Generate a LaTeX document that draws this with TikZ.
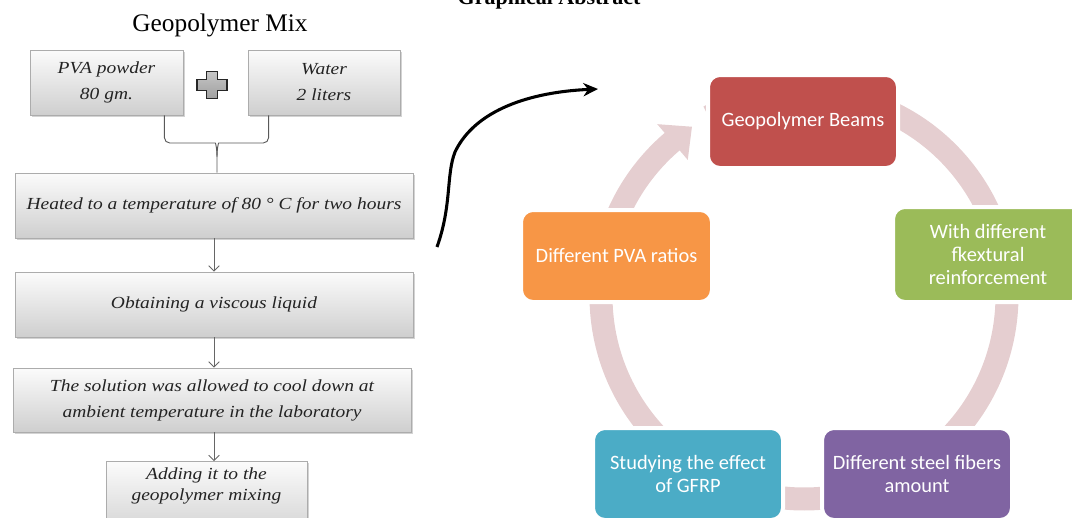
\documentclass[tikz,border=0pt]{standalone}
\usepackage{fontspec}
\setmainfont{Liberation Serif}
\newfontfamily\flowfont{Liberation Serif}[FakeStretch=1.15]
\newfontfamily\cyclefont{Carlito}
\usetikzlibrary{arrows.meta,shadows,calc}
\definecolor{ringpink}{RGB}{229,206,208}
\definecolor{cred}{RGB}{192,80,77}
\definecolor{corange}{RGB}{247,150,70}
\definecolor{cgreen}{RGB}{155,187,89}
\definecolor{cblue}{RGB}{75,172,198}
\definecolor{cpurple}{RGB}{128,100,162}
\definecolor{flowtext}{RGB}{35,35,35}
\tikzset{
  bsize/.style 2 args={minimum width={#1*0.75pt}, minimum height={#2*0.75pt}},
  flowbox/.style={draw=gray!65, line width=0.6pt, top color=gray!3, bottom color=gray!38,
    drop shadow={shadow xshift=1.2pt, shadow yshift=-1.2pt, opacity=0.35},
    font=\flowfont\itshape\fontsize{12.7}{19.5}\selectfont, text=flowtext, align=center, inner sep=0pt},
  flowtxt/.style={font=\flowfont\itshape\fontsize{12.7}{15.75}\selectfont, text=flowtext, align=center, inner sep=0pt},
  cyclebox/.style={rounded corners=9pt, draw=white, line width=3pt, text=white,
    font=\cyclefont\fontsize{15.3}{17.25}\selectfont, align=center, inner sep=0pt},
  flowarrow/.style={draw=gray!80!black, line width=0.6pt, -{Straight Barb[length=4pt,width=8pt]}},
  bracestyle/.style={draw=gray!70!black, line width=0.7pt},
  ringline/.style={draw=ringpink, line width={23*0.75pt}},
  bigarrow/.style={line width=2.3pt, -{Stealth[length=11pt,width=10pt]}},
}
\begin{document}
\begin{tikzpicture}[x=0.75pt,y=-0.75pt]
\useasboundingbox (0,0) rectangle (1072,518);
\clip (0,0) rectangle (1072,518);

% titles
\node[font=\fontsize{19}{22}\selectfont, inner sep=0pt] (mixtitle) at (220,25) {Geopolymer Mix};
\node[font=\bfseries\fontsize{16.5}{19}\selectfont, anchor=base, inner sep=0pt] (gatitle) at (549,4.5) {Graphical Abstract};

% left flow chart
\node[flowbox, bsize={153}{65}] (pva) at (106.5,82.5) {PVA powder\\80 gm.};
\node[flowbox, bsize={152}{65}] (water) at (324,82.5) {Water\\2 liters};
\filldraw[draw=gray!30!black, line width=1.1pt, top color=gray!45, bottom color=gray!75]
  (206.5,71.5) -- (217.5,71.5) -- (217.5,79.5) -- (227,79.5) -- (227,90.5) -- (217.5,90.5)
  -- (217.5,98.5) -- (206.5,98.5) -- (206.5,90.5) -- (197,90.5) -- (197,79.5) -- (206.5,79.5) -- cycle;
\node[flowbox, bsize={398}{65}] (heated) at (214,205.5) {Heated to a temperature of 80 ° C for two hours};
\node[flowbox, bsize={398}{65}] (obtaining) at (214,304.5) {Obtaining a viscous liquid};
\node[flowbox, bsize={398}{64}] (solution) at (212,400) {The solution was allowed to cool down at\\ambient temperature in the laboratory};
\node[flowbox, bsize={201}{80}, anchor=north] (adding) at (206.5,461) {};
\node[flowtxt] (addingtext) at (206.5,485.5) {Adding it to the\\geopolymer mixing};

% brace
\coordinate (braceL) at (210,143);
\coordinate (braceR) at (224,143);
\coordinate (bracetip) at (217,157);
\draw[bracestyle] ([xshift={-19*0.75pt}]pva.south east) [rounded corners=4pt] |- (braceL) [sharp corners]
  .. controls (215.5,143) and (217,148) .. (bracetip) -- (bracetip |- heated.north);
\draw[bracestyle] ([xshift={21*0.75pt}]water.south west) [rounded corners=4pt] |- (braceR) [sharp corners]
  .. controls (218.5,143) and (217,148) .. (bracetip);

% flow arrows
\draw[flowarrow] (heated.south) -- (obtaining.north);
\draw[flowarrow] (obtaining.south) -- (obtaining.south |- solution.north);
\draw[flowarrow] (obtaining.south |- solution.south) -- (obtaining.south |- adding.north);

% big curved arrow
\coordinate (arrowstart) at (437,247);
\coordinate (arrowend) at (598,89);
\draw[bigarrow] (arrowstart) .. controls (452,205) and (446,175) .. (455,152)
  .. controls (475,110) and (530,92) .. (arrowend);

% cycle ring
\coordinate (ringc) at (804,296);
\draw[ringline] ($(ringc)+(230.5:203)$) arc[start angle=230.5, end angle=-118, radius=203];
\fill[ringpink] ($(ringc)+(229.5:226)$) -- ($(ringc)+(236.5:203)$) -- ($(ringc)+(229.5:179)$) -- cycle;

% cycle boxes
\node[cyclebox, fill=cred, bsize={190}{93}] (beams) at (803,121.5) {Geopolymer Beams};
\node[cyclebox, fill=corange, bsize={191}{92}] (pvaratio) at (616.5,256) {Different PVA ratios};
\node[cyclebox, fill=cgreen, bsize={190}{95}] (flexural) at (988,254.5) {With different\\fkextural\\reinforcement};
\node[cyclebox, fill=cpurple, bsize={190}{92}] (steel) at (917,474) {Different steel fibers\\amount};
\node[cyclebox, fill=cblue, bsize={190}{92}] (gfrp) at (688,474) {Studying the effect\\of GFRP};
\end{tikzpicture}
\end{document}
